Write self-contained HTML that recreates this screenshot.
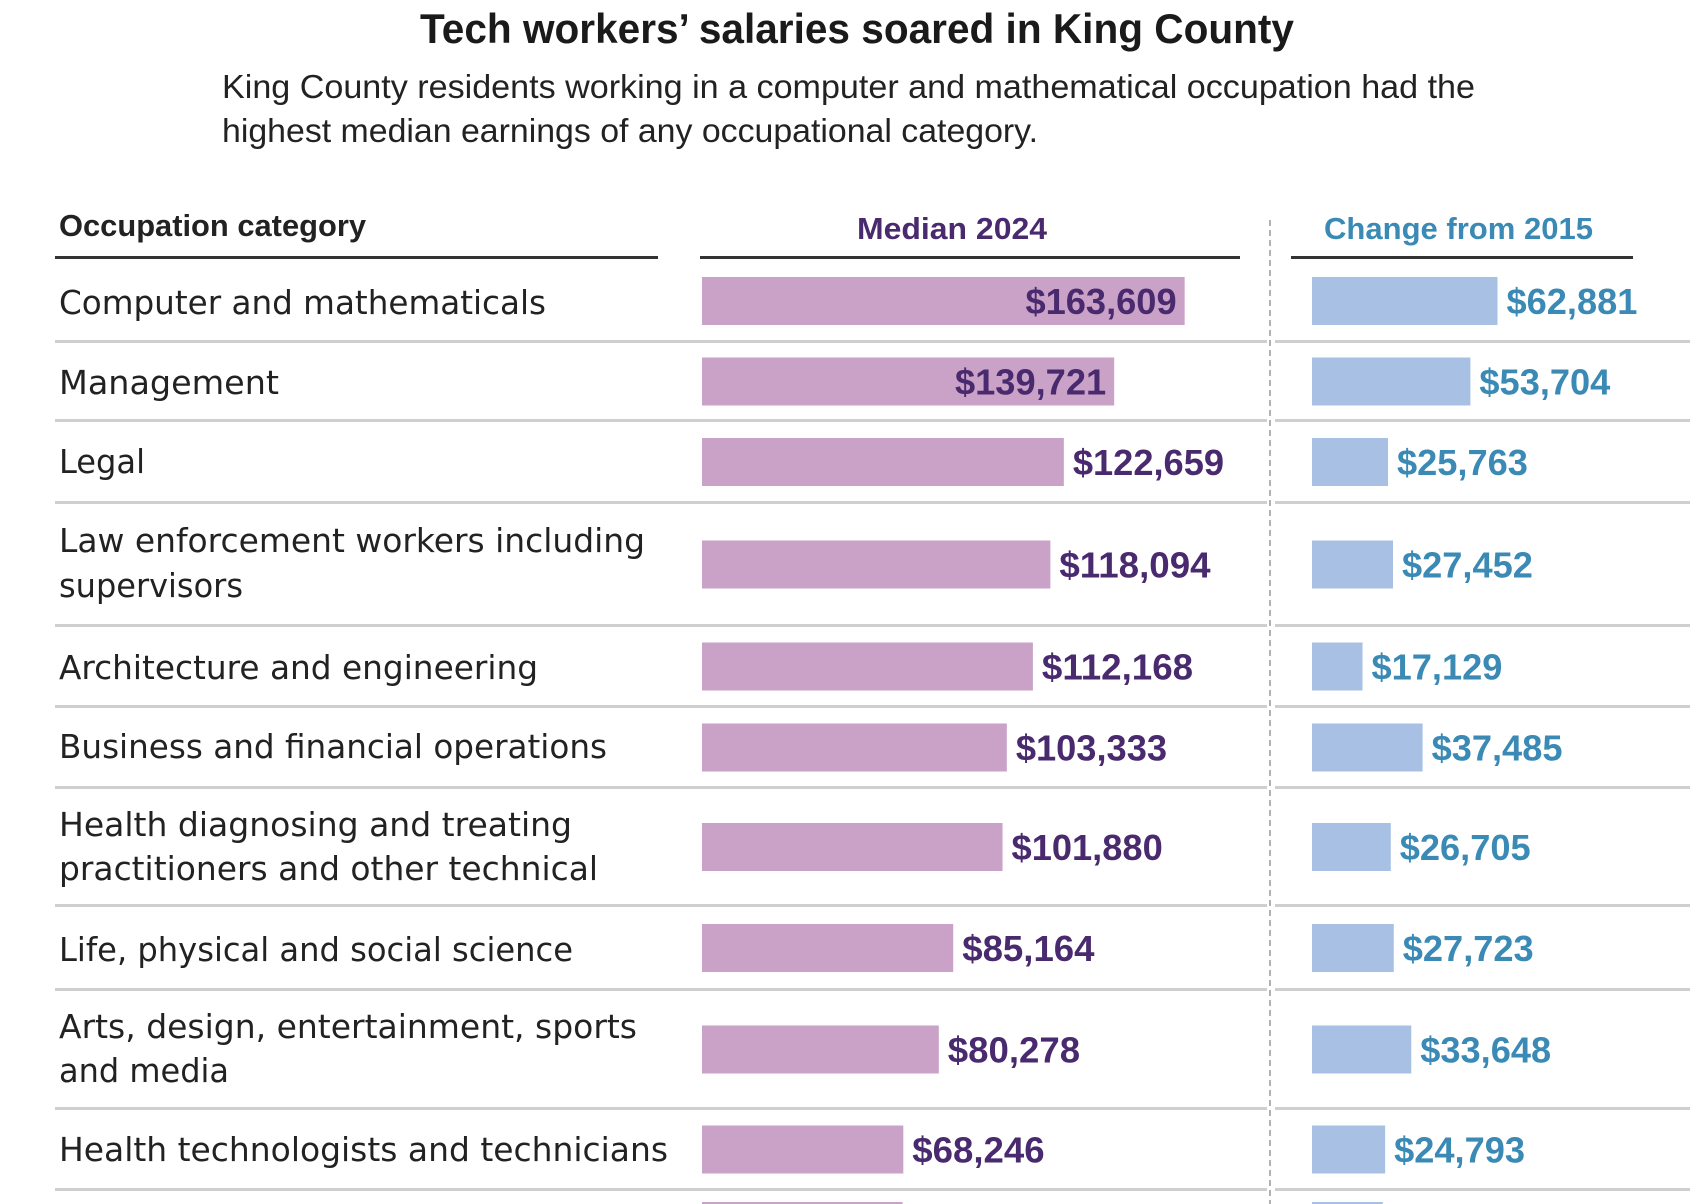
<!DOCTYPE html>
<html><head><meta charset="utf-8"><style>
html,body{margin:0;padding:0;background:#fff;}
svg{display:block;font-family:"Liberation Sans",sans-serif;}
.lab{font-family:"DejaVu Sans","Liberation Sans",sans-serif;font-size:33px;fill:#222;}
</style></head><body>
<svg id="chart" width="1690" height="1204" viewBox="0 0 1690 1204">
<text x="857" y="43" text-anchor="middle" font-size="42" font-weight="bold" fill="#1a1a1a" textLength="874" lengthAdjust="spacingAndGlyphs">Tech workers’ salaries soared in King County</text>
<text x="222" y="98" font-size="33" fill="#222" textLength="1253" lengthAdjust="spacingAndGlyphs">King County residents working in a computer and mathematical occupation had the</text>
<text x="222" y="142" font-size="33" fill="#222" textLength="816" lengthAdjust="spacingAndGlyphs">highest median earnings of any occupational category.</text>
<text x="59" y="236" font-size="31" font-weight="bold" fill="#222" textLength="307" lengthAdjust="spacingAndGlyphs">Occupation category</text>
<text x="857" y="239" font-size="31" font-weight="bold" fill="#4a2a6e" textLength="190" lengthAdjust="spacingAndGlyphs">Median 2024</text>
<text x="1324" y="239" font-size="31" font-weight="bold" fill="#3a8ab5" textLength="269" lengthAdjust="spacingAndGlyphs">Change from 2015</text>
<rect x="55" y="256" width="603" height="3" fill="#333"/>
<rect x="700" y="256" width="540" height="3" fill="#333"/>
<rect x="1291" y="256" width="342" height="3" fill="#333"/>
<line x1="1270" y1="220" x2="1270" y2="1204" stroke="#999" stroke-width="1.5" stroke-dasharray="6,4"/>
<g id="rows"></g>
<g>
<text class="lab" x="59" y="314" textLength="487" lengthAdjust="spacingAndGlyphs">Computer and mathematicals</text>
<text class="lab" x="59" y="394" textLength="220" lengthAdjust="spacingAndGlyphs">Management</text>
<text class="lab" x="59" y="473" textLength="86" lengthAdjust="spacingAndGlyphs">Legal</text>
<text class="lab" x="59" y="552" textLength="586" lengthAdjust="spacingAndGlyphs">Law enforcement workers including</text>
<text class="lab" x="59" y="597" textLength="184" lengthAdjust="spacingAndGlyphs">supervisors</text>
<text class="lab" x="59" y="679" textLength="479" lengthAdjust="spacingAndGlyphs">Architecture and engineering</text>
<text class="lab" x="59" y="758" textLength="548" lengthAdjust="spacingAndGlyphs">Business and financial operations</text>
<text class="lab" x="59" y="836" textLength="513" lengthAdjust="spacingAndGlyphs">Health diagnosing and treating</text>
<text class="lab" x="59" y="880" textLength="539" lengthAdjust="spacingAndGlyphs">practitioners and other technical</text>
<text class="lab" x="59" y="961" textLength="514" lengthAdjust="spacingAndGlyphs">Life, physical and social science</text>
<text class="lab" x="59" y="1038" textLength="578" lengthAdjust="spacingAndGlyphs">Arts, design, entertainment, sports</text>
<text class="lab" x="59" y="1082" textLength="170" lengthAdjust="spacingAndGlyphs">and media</text>
<text class="lab" x="59" y="1161" textLength="609" lengthAdjust="spacingAndGlyphs">Health technologists and technicians</text>
</g>
</svg>
<script>
const categories = ["Computer and mathematicals","Management","Legal","Law enforcement workers including supervisors","Architecture and engineering","Business and financial operations","Health diagnosing and treating practitioners and other technical","Life, physical and social science","Arts, design, entertainment, sports and media","Health technologists and technicians","Next category"];
const median2024 = [163609,139721,122659,118094,112168,103333,101880,85164,80278,68246,68000];
const change2015 = [62881,53704,25763,27452,17129,37485,26705,27723,33648,24793,24000];
const showValue = [true,true,true,true,true,true,true,true,true,true,false];

const NS = "http://www.w3.org/2000/svg";
const rowTops = [259,341,420,502,625,706,787,905,989,1108,1189];
const rowBottoms = [341,420,502,625,706,787,905,989,1108,1189,1290];
const SCALE = 0.00295;
const xMed = v => v * SCALE;
const xChg = v => v * SCALE;
const MED0 = 702, CHG0 = 1312;
const g = document.getElementById('rows');
function fmt(v){return '$' + v.toLocaleString('en-US');}
function mk(tag, attrs){const e=document.createElementNS(NS,tag);for(const k in attrs)e.setAttribute(k,attrs[k]);g.appendChild(e);return e;}

categories.forEach((c,i)=>{
  const cy = i < 10 ? (rowTops[i]+rowBottoms[i])/2 + 1 : 1226;
  const top = cy - 24;
  if (i < 10) {
    const s1 = mk('rect',{x:55,y:rowBottoms[i]-1,width:1212,height:3,fill:'#cfcfcf'});
    
    
    const s2 = mk('rect',{x:1275,y:rowBottoms[i]-1,width:415,height:3,fill:'#cfcfcf'});
    
    
  }
  const mw = xMed(median2024[i]);
  const b1 = mk('rect',{x:MED0,y:top,width:mw,height:48,fill:'#caa2c7'});
  
  
  const cw = xChg(change2015[i]);
  const b2 = mk('rect',{x:CHG0,y:top,width:cw,height:48,fill:'#a8c0e3'});
  
  
  if (!showValue[i]) return;
  const t1s = fmt(median2024[i]);
  const inside = mw > 385;
  const t1 = mk('text',{x: inside ? MED0+mw-8 : MED0+mw+9, y: cy+13, 'text-anchor': inside?'end':'start','font-size':36,'font-weight':'bold',fill:'#4a2a6e',textLength:t1s.length*18.9,lengthAdjust:'spacingAndGlyphs'});
  t1.textContent = t1s;
  
  
  const t2s = fmt(change2015[i]);
  const t2 = mk('text',{x: CHG0+cw+9, y: cy+13,'font-size':36,'font-weight':'bold',fill:'#3a8ab5',textLength:t2s.length*18.7,lengthAdjust:'spacingAndGlyphs'});
  t2.textContent = t2s;
  
  
});
</script>
</body></html>
